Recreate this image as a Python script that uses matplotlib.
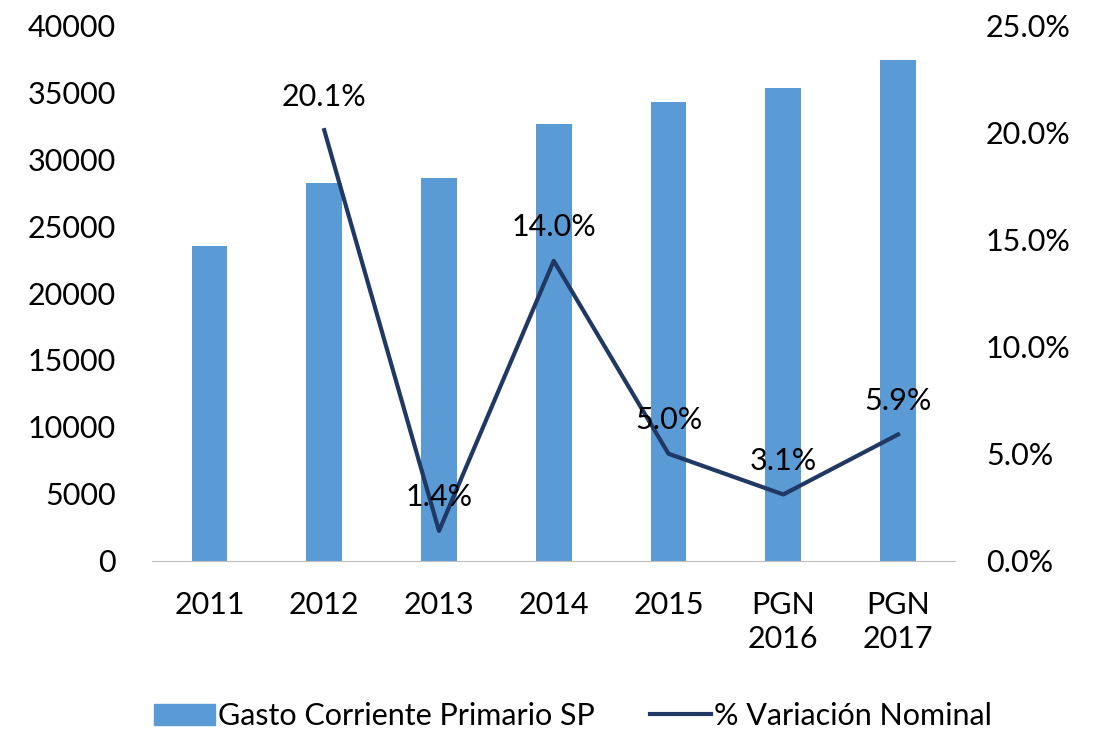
import matplotlib.pyplot as plt
import numpy as np
from matplotlib.lines import Line2D
from matplotlib.patches import Patch

plt.rcParams['font.family'] = ['Lato', 'DejaVu Sans']

# ── Data
categories = ["2011", "2012", "2013", "2014", "2015", "PGN\n2016", "PGN\n2017"]
gasto = [23500, 28200, 28600, 32600, 34250, 35300, 37400]
var_cats = [1, 2, 3, 4, 5, 6]
variacion = [20.1, 1.4, 14.0, 5.0, 3.1, 5.9]

bar_color = "#5B9BD5"
line_color = "#203864"
fs = 22

fig = plt.figure(figsize=(11.02, 7.39), dpi=100)
ax = fig.add_axes([0.138, 0.241, 0.729, 0.725])
ax2 = ax.twinx()

x = np.arange(len(categories))
ax.bar(x, gasto, width=0.31, color=bar_color, zorder=2)
ax.set_xlim(-0.5, len(categories) - 0.5)
ax.set_ylim(0, 40000)
ax.set_yticks(range(0, 40001, 5000))
ax.set_xticks(x)
ax.set_xticklabels(categories, linespacing=1.25)

ax2.plot(var_cats, variacion, color=line_color, linewidth=3, zorder=3)
ax2.set_ylim(0, 25)
ax2.set_yticks(np.arange(0, 25.1, 5))
ax2.set_yticklabels([f"{v:.1f}%" for v in np.arange(0, 25.1, 5)])
for xi, v in zip(var_cats, variacion):
    ax2.annotate(f"{v:.1f}%", (xi, v), xytext=(0, 14), textcoords="offset points",
                 ha="center", va="bottom", fontsize=fs, color="black")

for a in (ax, ax2):
    for s in ["top", "left", "right"]:
        a.spines[s].set_visible(False)
    a.tick_params(length=0, labelsize=fs, colors="black")
ax2.spines["bottom"].set_visible(False)
ax.spines["bottom"].set_color("#BFBFBF")
ax.tick_params(axis="y", pad=26)
ax2.tick_params(axis="y", pad=22)
ax.tick_params(axis="x", pad=22)

handles = [Patch(color=bar_color, label="Gasto Corriente Primario SP"),
           Line2D([0], [0], color=line_color, linewidth=3, label="% Variación Nominal")]
fig.legend(handles=handles, loc="lower center", bbox_to_anchor=(0.52, -0.025), ncol=2,
           frameon=False, fontsize=fs, handlelength=2.0, columnspacing=1.8, handletextpad=0.1)

plt.savefig("out.png", dpi=100)
